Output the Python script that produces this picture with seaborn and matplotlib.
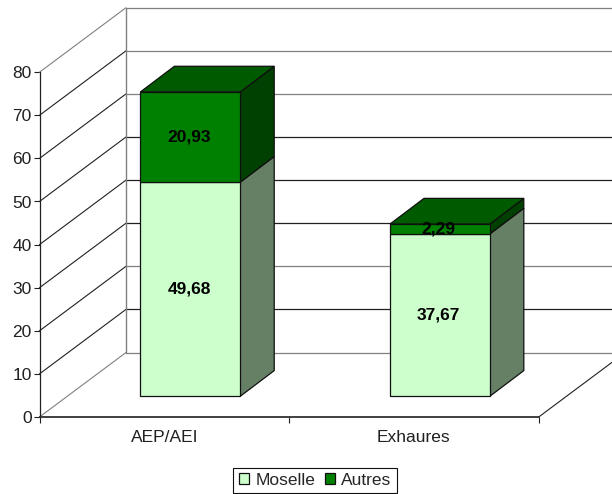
"""Stacked pseudo-3D bars, Moselle vs Autres"""

import matplotlib.pyplot as plt
import seaborn as sns
from matplotlib.patches import Patch

categories = ["AEP/AEI", "Exhaures"]
moselle = [49.68, 37.67]
autres = [20.93, 2.29]
yticks = [0, 10, 20, 30, 40, 50, 60, 70, 80]
grey_lines = [0, 20, 60, 70, 80]


def pct_label(val):
    """French decimal comma"""
    return f"{val:.2f}".replace(".", ",")


def main():
    """Do things"""
    sns.set_theme(style="white")
    plt.rcParams["font.family"] = ["Liberation Sans", "DejaVu Sans"]
    fs = 12.5

    w, h = 612, 494
    fig = plt.figure(figsize=(w / 100, h / 100), dpi=100)
    # pixel layout of the front plane
    left, right, y0, y80 = 39.5, 538.7, 417, 72.2
    ax = fig.add_axes([left / w, 1 - y0 / h, (right - left) / w, (y0 - y80) / h])
    ax.set_xlim(-0.5, 1.5)
    ax.set_ylim(0, 80)
    xscale = (right - left) / 2
    yscale = (y0 - y80) / 80

    # back wall and side wall
    wall_x = 86.5 / xscale
    wall_y = 64.5 / yscale
    for v in yticks:
        diag = "#808080" if v in (0, 80) else "#202020"
        color = "#808080" if v in grey_lines else "#202020"
        ax.plot([-0.5, -0.5 + wall_x], [v, v + wall_y], color=diag, lw=0.8, clip_on=False)
        ax.plot(
            [-0.5 + wall_x, 1.5 + wall_x],
            [v + wall_y, v + wall_y],
            color=color,
            lw=0.9,
            clip_on=False,
        )
    ax.plot(
        [-0.5 + wall_x, -0.5 + wall_x],
        [wall_y, 80 + wall_y],
        color="#808080",
        lw=1,
        clip_on=False,
    )
    ax.plot([1.5, 1.5 + wall_x], [0, wall_y], color="#202020", lw=0.8, clip_on=False)

    ax.set_xticks([-0.5, 0.5, 1.5], labels=[])
    ax.set_xticks([0, 1], labels=categories, minor=True)
    ax.set_yticks(yticks)
    ax.tick_params(axis="x", which="major", length=4, width=0.8, color="#202020", bottom=True)
    ax.tick_params(axis="x", which="minor", length=0, pad=9.5, labelsize=fs, colors="#202020")
    ax.tick_params(axis="y", length=4, width=0.8, color="#202020", left=True, labelsize=fs,
                   labelcolor="#202020", pad=1.5)
    sns.despine(ax=ax)
    ax.spines["left"].set_color("#202020")
    ax.spines["left"].set_linewidth(0.9)
    ax.spines["bottom"].set_color("#303030")
    ax.spines["bottom"].set_linewidth(1.3)

    # bars live on a plane shifted into the depth of the chart
    shift_x, shift_y = 26, 20.7
    bx = fig.add_axes(
        [(left + shift_x) / w, 1 - (y0 - shift_y) / h, (right - left) / w, (y0 - y80) / h]
    )
    bx.patch.set_alpha(0)
    sns.barplot(
        x=categories, y=moselle, color="#CCFFCC", saturation=1, width=0.4,
        edgecolor="#101010", linewidth=0.9, ax=bx, zorder=3,
    )
    n = len(categories)
    sns.barplot(
        x=categories, y=autres, bottom=moselle, color="#008000", saturation=1, width=0.4,
        edgecolor="#101010", linewidth=0.9, ax=bx, zorder=3,
    )
    bx.set_xlim(-0.5, 1.5)
    bx.set_ylim(0, 80)
    bx.axis("off")

    # side and top faces from the bars that seaborn drew
    dx = 34 / xscale
    dy = 25.7 / yscale
    bars = list(bx.patches)
    for i, bar in enumerate(bars):
        bar.set_clip_on(False)
        x0 = bar.get_x()
        x1 = x0 + bar.get_width()
        b = bar.get_y()
        t = b + bar.get_height()
        side = "#668066" if i < n else "#004000"
        bx.fill(
            [x1, x1 + dx, x1 + dx, x1],
            [b, b + dy, t + dy, t],
            facecolor=side, edgecolor="#101010", lw=0.9, clip_on=False, zorder=2,
        )
        if i >= n:
            bx.fill(
                [x0, x1, x1 + dx, x0 + dx],
                [t, t, t + dy, t + dy],
                facecolor="#005A00", edgecolor="#101010", lw=0.9, clip_on=False, zorder=2,
            )
        bx.text(
            (x0 + x1) / 2 - 0.005, (b + t) / 2, pct_label(bar.get_height()),
            ha="center", va="center", fontsize=fs, fontweight="bold", color="black", zorder=5,
        )

    leg = fig.legend(
        handles=[
            Patch(facecolor="#CCFFCC", edgecolor="#101010", lw=0.9, label="Moselle"),
            Patch(facecolor="#008000", edgecolor="#101010", lw=0.9, label="Autres"),
        ],
        loc="center",
        bbox_to_anchor=(315 / w, 1 - 480.5 / h),
        ncol=2,
        fontsize=fs,
        frameon=True,
        fancybox=False,
        framealpha=1,
        edgecolor="#101010",
        handlelength=0.6,
        handleheight=0.6,
        handletextpad=0.35,
        columnspacing=0.55,
        borderpad=0.3,
        borderaxespad=0,
    )
    leg.get_frame().set_linewidth(0.8)

    fig.savefig("out.png", dpi=100)


if __name__ == "__main__":
    main()
